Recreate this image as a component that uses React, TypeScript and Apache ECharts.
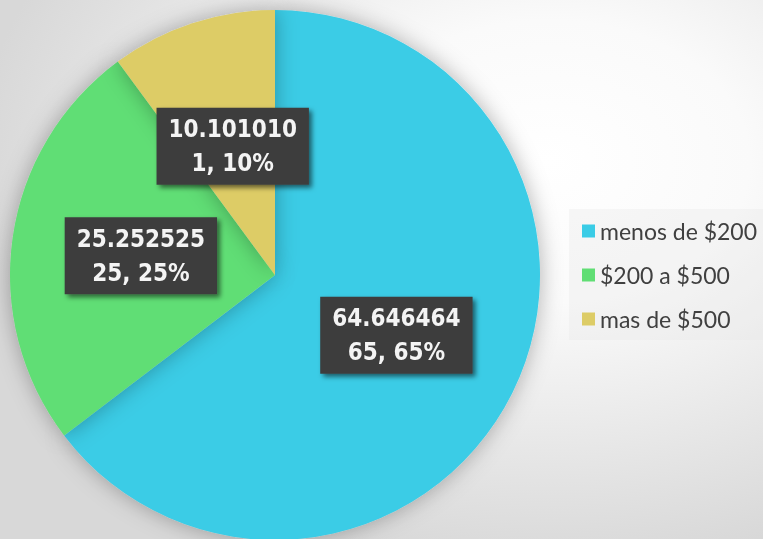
import React, { useEffect, useRef } from "react";
import * as echarts from "echarts";

const categories = ["menos de $200", "$200 a $500", "mas de $500"];
const values = [64.646464, 25.252525, 10.10101];
const counts = [65, 25, 1];
const percents = [65, 25, 10];
const colors = ["#3acce6", "#60de74", "#ddcc66"];

export default function App() {
  const ref = useRef<HTMLDivElement>(null);
  useEffect(() => {
    if (!ref.current) return;
    const chart = echarts.init(ref.current, null, { renderer: "svg" });
    chart.setOption({
      animation: false,
      backgroundColor: {
        type: "radial",
        x: 0.72,
        y: 0.3,
        r: 0.75,
        colorStops: [
          { offset: 0, color: "#ffffff" },
          { offset: 0.35, color: "#fafafa" },
          { offset: 1, color: "#d8d8d8" },
        ],
      },
      legend: {
        orient: "vertical",
        left: 569,
        top: 209,
        padding: [10, 30, 9, 13],
        backgroundColor: "rgba(232,232,232,0.35)",
        icon: "rect",
        itemWidth: 13,
        itemHeight: 13,
        itemGap: 20,
        textStyle: {
          fontFamily: "Lato, 'Open Sans', sans-serif",
          fontSize: 23,
          lineHeight: 24,
          color: "#404040",
        },
        data: categories,
      },
      series: [
        {
          type: "pie",
          center: [275, 275],
          radius: 265,
          startAngle: 90,
          clockwise: true,
          itemStyle: {
            shadowBlur: 22,
            shadowColor: "rgba(0,0,0,0.3)",
          },
          label: {
            show: true,
            position: "inside",
            formatter: (p: any) =>
              values[p.dataIndex].toFixed(6) +
              "\n" +
              counts[p.dataIndex] +
              ", " +
              percents[p.dataIndex] +
              "%",
            fontFamily: "'DejaVu Sans Condensed', 'DejaVu Sans', sans-serif",
            fontWeight: "bold",
            fontSize: 24,
            lineHeight: 34,
            color: "#f4f4f4",
            backgroundColor: "#3e3e3e",
            padding: [5, 12, 4, 12],
            shadowColor: "rgba(0,0,0,0.55)",
            shadowBlur: 5,
            shadowOffsetX: 3,
            shadowOffsetY: 3,
            align: "center",
          },
          labelLine: { show: false },
          data: categories.map((c, i) => ({
            name: c,
            value: values[i],
            itemStyle: { color: colors[i] },
          })),
        },
      ],
    });
    return () => chart.dispose();
  }, []);
  return (
    <div
      ref={ref}
      style={{ position: "fixed", left: 0, top: 0, width: 763, height: 539 }}
    />
  );
}
